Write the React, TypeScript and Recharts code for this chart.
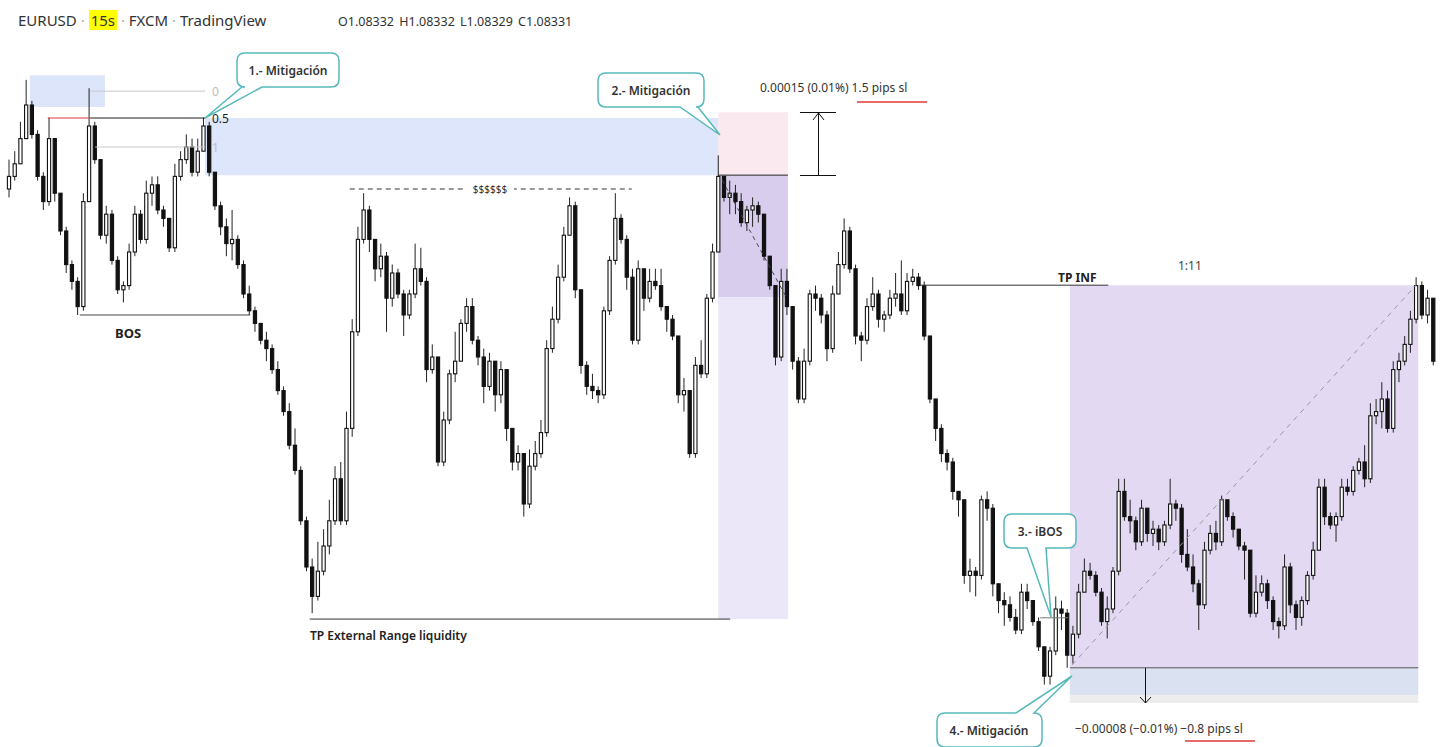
import React from "react";
import { ComposedChart, Bar, XAxis, YAxis, ReferenceArea, ReferenceLine } from "recharts";

// EURUSD 15s (FXCM). Prices are in points above 1.08000 (1 point = 0.00001).
const FIRST_OPEN = 372;

const closes = [
  375, 378, 384, 392, 385, 375, 369, 384, 371, 362, 354, 350, 344, 369, 387, 379, 361, 366, 355, 348,
  349, 357, 366, 360, 371, 373, 367, 365, 358, 375, 379, 382, 376, 381, 387, 376, 368, 363, 359, 360,
  354, 347, 343, 340, 336, 334, 329, 324, 319, 311, 305, 293, 282, 275, 281, 287, 293, 303, 293, 315,
  338, 360, 367, 360, 353, 356, 346, 352, 347, 342, 347, 353, 350, 329, 332, 307, 317, 328, 331, 340,
  344, 336, 332, 325, 331, 323, 329, 315, 307, 309, 297, 306, 309, 314, 334, 341, 351, 361, 368, 348,
  330, 325, 324, 323, 343, 355, 365, 360, 351, 336, 353, 346, 350, 349, 344, 341, 337, 323, 324, 309,
  330, 328, 346, 357, 375, 370, 371, 369, 364, 367, 368, 366, 356, 349, 332, 350, 344, 331, 322, 331,
  347, 346, 342, 334, 347, 354, 362, 353, 337, 336, 344, 347, 341, 342, 346, 347, 343, 350, 351, 349,
  337, 322, 315, 309, 307, 300, 298, 280, 281, 280, 298, 296, 278, 274, 273, 270, 267, 276, 274, 269,
  263, 256, 262, 272, 271, 261, 266, 276, 281, 280, 276, 269, 272, 281, 300, 294, 293, 288, 296, 290,
  291, 288, 292, 297, 296, 285, 282, 278, 273, 286, 290, 288, 298, 294, 291, 287, 286, 271, 276, 278,
  274, 269, 268, 282, 273, 270, 274, 280, 286, 301, 294, 292, 294, 301, 300, 305, 307, 303, 318, 319,
  322, 315, 329, 331, 335, 341, 349, 342, 346, 331,
];

const highs = [
  379, 381, 388, 398, 393, 386, 376, 389, 384, 371, 363, 355, 351, 371, 396, 388, 379, 368, 367, 356,
  350, 359, 368, 367, 374, 375, 375, 368, 365, 378, 381, 385, 384, 384, 389, 388, 376, 369, 365, 367,
  361, 355, 349, 344, 340, 338, 335, 331, 325, 321, 315, 306, 294, 284, 288, 291, 298, 306, 307, 319,
  341, 363, 371, 368, 360, 359, 357, 354, 353, 348, 348, 359, 358, 351, 335, 332, 319, 329, 338, 341,
  346, 346, 337, 334, 333, 331, 331, 327, 315, 311, 309, 310, 312, 317, 336, 344, 354, 363, 370, 369,
  347, 331, 328, 325, 344, 356, 371, 366, 361, 353, 355, 353, 353, 353, 353, 344, 342, 337, 327, 324,
  332, 336, 347, 359, 380, 375, 374, 373, 371, 368, 370, 369, 366, 356, 349, 353, 353, 344, 332, 334,
  348, 349, 347, 343, 349, 357, 365, 363, 354, 338, 346, 351, 348, 343, 348, 352, 355, 352, 353, 352,
  350, 337, 322, 316, 310, 308, 300, 298, 284, 282, 299, 300, 297, 278, 276, 275, 272, 278, 278, 274,
  270, 263, 263, 275, 274, 272, 268, 278, 284, 283, 281, 277, 275, 282, 303, 303, 298, 294, 298, 294,
  293, 292, 293, 303, 298, 297, 291, 285, 279, 288, 292, 293, 299, 298, 295, 291, 288, 286, 280, 280,
  279, 275, 270, 285, 283, 274, 275, 281, 288, 303, 303, 295, 295, 303, 303, 306, 308, 311, 321, 322,
  326, 324, 331, 333, 337, 343, 351, 350, 348, 340,
];

const lows = [
  370, 374, 379, 384, 384, 374, 367, 368, 369, 361, 352, 348, 342, 343, 369, 378, 360, 359, 354, 347,
  345, 348, 356, 359, 359, 368, 366, 363, 357, 357, 374, 378, 375, 375, 381, 375, 367, 361, 356, 355,
  353, 346, 342, 338, 335, 331, 328, 323, 318, 310, 304, 292, 281, 271, 274, 280, 285, 292, 292, 292,
  313, 337, 359, 357, 350, 351, 338, 344, 346, 337, 341, 346, 349, 326, 328, 306, 306, 316, 326, 331,
  338, 335, 330, 321, 324, 319, 321, 312, 305, 305, 294, 296, 305, 308, 313, 333, 340, 350, 361, 346,
  328, 323, 322, 321, 322, 342, 354, 359, 348, 335, 335, 343, 345, 348, 343, 338, 336, 321, 319, 308,
  308, 327, 327, 345, 357, 369, 366, 366, 363, 362, 363, 364, 355, 348, 330, 331, 342, 329, 321, 321,
  330, 343, 340, 331, 333, 347, 353, 352, 335, 331, 335, 343, 339, 338, 341, 344, 342, 342, 349, 348,
  336, 321, 312, 307, 305, 298, 294, 278, 276, 275, 279, 293, 275, 271, 268, 269, 266, 266, 272, 268,
  262, 254, 254, 261, 267, 258, 259, 265, 276, 279, 275, 268, 265, 271, 280, 293, 290, 286, 287, 288,
  287, 286, 287, 291, 293, 283, 281, 276, 267, 272, 285, 286, 287, 293, 289, 286, 279, 270, 270, 275,
  272, 267, 265, 267, 271, 267, 268, 273, 279, 286, 292, 291, 288, 293, 299, 299, 304, 301, 302, 316,
  315, 314, 314, 326, 330, 333, 340, 341, 340, 330,
];

const candles = closes.map((close, i) => ({
  i,
  open: i === 0 ? FIRST_OPEN : closes[i - 1],
  close,
  high: highs[i],
  low: lows[i],
  range: [lows[i], highs[i]],
}));

const Y_DOMAIN: [number, number] = [239.14, 417];
const X_DOMAIN: [number, number] = [-0.5, closes.length - 0.5];

const Candle = (props: any) => {
  const { x, y, width, height, payload } = props;
  if (x == null || !payload) return null;
  const top = Math.min(y, y + height);
  const h = Math.abs(height);
  const span = payload.high - payload.low || 1;
  const k = h / span;
  const cx = x + width / 2;
  const yO = top + (payload.high - payload.open) * k;
  const yC = top + (payload.high - payload.close) * k;
  const up = payload.close >= payload.open;
  const bTop = Math.min(yO, yC);
  const bH = Math.max(1, Math.abs(yO - yC));
  return (
    <g>
      <line x1={cx} x2={cx} y1={top} y2={top + h} stroke="#222" strokeWidth={1} />
      <rect x={cx - 1.6} y={bTop} width={3.2} height={bH} fill={up ? "#fff" : "#111"} stroke="#111" strokeWidth={1.1} />
    </g>
  );
};

// rounded callout box with a tail leaving the top or bottom edge
function bubble(x: number, y: number, w: number, h: number, side: "top" | "bottom", t1: number, t2: number, px: number, py: number) {
  const r = 8;
  if (side === "bottom") {
    return `M${x + r},${y} H${x + w - r} Q${x + w},${y} ${x + w},${y + r} V${y + h - r} Q${x + w},${y + h} ${x + w - r},${y + h} H${t2} L${px},${py} L${t1},${y + h} H${x + r} Q${x},${y + h} ${x},${y + h - r} V${y + r} Q${x},${y} ${x + r},${y} Z`;
  }
  return `M${x + r},${y} H${t1} L${px},${py} L${t2},${y} H${x + w - r} Q${x + w},${y} ${x + w},${y + r} V${y + h - r} Q${x + w},${y + h} ${x + w - r},${y + h} H${x + r} Q${x},${y + h} ${x},${y + h - r} V${y + r} Q${x},${y} ${x + r},${y} Z`;
}

const FONT = '"Noto Sans", "Open Sans", sans-serif';
const TEAL = "#57b9ba";

export default function App() {
  return (
    <div style={{ position: "absolute", left: 0, top: 0, width: 1440, height: 747, background: "#fff", overflow: "hidden" }}>
      <ComposedChart width={1440} height={747} data={candles} margin={{ top: 0, right: 4, bottom: 0, left: 6 }}>
        <XAxis dataKey="i" type="number" domain={X_DOMAIN} hide allowDataOverflow />
        <YAxis type="number" domain={Y_DOMAIN} hide allowDataOverflow />

        {/* order blocks */}
        <ReferenceArea x1={3.7} x2={16.8} y1={391.5} y2={399.1} fill="#dde5fa" fillOpacity={1} stroke="none" />
        <ReferenceArea x1={34.3} x2={124.0} y1={375.3} y2={388.9} fill="#dde6fa" fillOpacity={1} stroke="none" />

        {/* short position tool */}
        <ReferenceArea x1={124.0} x2={136.2} y1={375.3} y2={390.3} fill="#f8dbe6" fillOpacity={0.6} stroke="none" />
        <ReferenceArea x1={124.0} x2={136.2} y1={346.3} y2={375.3} fill="#d9cdee" fillOpacity={1} stroke="none" />
        <ReferenceArea x1={124.0} x2={136.2} y1={269.6} y2={346.3} fill="#ece7f8" fillOpacity={1} stroke="none" />

        {/* long position tool */}
        <ReferenceArea x1={185.5} x2={246.4} y1={258.0} y2={349.1} fill="#e3d9f2" fillOpacity={1} stroke="none" />
        <ReferenceArea x1={185.5} x2={246.4} y1={251.5} y2={258.0} fill="#dae2f2" fillOpacity={1} stroke="none" />
        <ReferenceArea x1={185.5} x2={246.4} y1={249.6} y2={251.5} fill="#ededed" fillOpacity={1} stroke="none" />

        {/* fib levels */}
        <ReferenceLine segment={[{ x: 14.2, y: 395.3 }, { x: 34.3, y: 395.3 }]} stroke="#c9c9c9" />
        <ReferenceLine segment={[{ x: 6.8, y: 388.9 }, { x: 14.2, y: 388.9 }]} stroke="#d83a3a" />
        <ReferenceLine segment={[{ x: 14.2, y: 388.9 }, { x: 34.3, y: 388.9 }]} stroke="#222" />
        <ReferenceLine segment={[{ x: 15.1, y: 382.0 }, { x: 34.3, y: 382.0 }]} stroke="#c9c9c9" />

        {/* structure lines */}
        <ReferenceLine segment={[{ x: 12.4, y: 342.0 }, { x: 42.2, y: 342.0 }]} stroke="#444" />
        <ReferenceLine segment={[{ x: 59.6, y: 372.0 }, { x: 108.9, y: 372.0 }]} stroke="#333" strokeDasharray="5 4" />
        <ReferenceLine segment={[{ x: 52.6, y: 269.6 }, { x: 126.1, y: 269.6 }]} stroke="#333" />
        <ReferenceLine segment={[{ x: 159.3, y: 349.1 }, { x: 192.2, y: 349.1 }]} stroke="#333" />
        <ReferenceLine segment={[{ x: 180.3, y: 269.9 }, { x: 185.2, y: 269.9 }]} stroke="#777" />

        {/* position tool entries and paths */}
        <ReferenceLine segment={[{ x: 124.0, y: 375.3 }, { x: 136.2, y: 375.3 }]} stroke="#222" />
        <ReferenceLine segment={[{ x: 124.7, y: 374.1 }, { x: 135.9, y: 346.3 }]} stroke="#444" strokeDasharray="4 4" />
        <ReferenceLine segment={[{ x: 185.5, y: 258.0 }, { x: 246.4, y: 258.0 }]} stroke="#555" />
        <ReferenceLine segment={[{ x: 185.9, y: 258.7 }, { x: 246.0, y: 349.1 }]} stroke="#9a9a9a" strokeDasharray="5 5" />

        <Bar dataKey="range" barSize={4} shape={Candle} isAnimationActive={false} />
      </ComposedChart>

      <svg width={1440} height={747} style={{ position: "absolute", left: 0, top: 0, pointerEvents: "none" }} fontFamily={FONT}>
        {/* fib labels */}
        <text x={212} y={91} fontSize={12} fill="#bdbdbd" dominantBaseline="central">0</text>
        <text x={212} y={118} fontSize={12} fill="#222" dominantBaseline="central">0.5</text>
        <text x={212} y={147} fontSize={12} fill="#bdbdbd" dominantBaseline="central">1</text>

        <text x={115} y={333} fontSize={13} fontWeight={700} fill="#222" dominantBaseline="central">BOS</text>

        <rect x={466} y={183} width={48} height={12} fill="#fff" />
        <text x={490} y={189} fontSize={10} fill="#333" textAnchor="middle" dominantBaseline="central">$$$$$$</text>

        <text x={310} y={635} fontSize={12} fontWeight={600} fill="#222" dominantBaseline="central">TP External Range liquidity</text>
        <text x={1058} y={277} fontSize={12} fontWeight={700} fill="#222" dominantBaseline="central">TP INF</text>
        <text x={1178} y={265} fontSize={12} fill="#444" dominantBaseline="central">1:11</text>

        {/* stop measure, short */}
        <line x1={800} x2={836} y1={112.5} y2={112.5} stroke="#111" />
        <line x1={800} x2={836} y1={175.5} y2={175.5} stroke="#111" />
        <line x1={818.5} x2={818.5} y1={113} y2={175} stroke="#111" />
        <polyline points="813,120 818.5,113 824,120" fill="none" stroke="#111" />
        <text x={760} y={87} fontSize={12} fill="#333" dominantBaseline="central">0.00015 (0.01%) 1.5 pips sl</text>
        <line x1={857} x2={927} y1={102} y2={102} stroke="#e03a3a" strokeWidth={1.5} />

        {/* stop measure, long */}
        <line x1={1145.5} x2={1145.5} y1={668} y2={703} stroke="#111" />
        <polyline points="1140,697 1145.5,703 1151,697" fill="none" stroke="#111" />
        <text x={1075} y={728} fontSize={12} fill="#333" dominantBaseline="central">−0.00008 (−0.01%) −0.8 pips sl</text>
        <line x1={1185} x2={1255} y1={741} y2={741} stroke="#e03a3a" strokeWidth={1.5} />

        {/* callouts */}
        <path d={bubble(237, 53, 102, 34, "bottom", 242, 262, 205, 118)} fill="#fff" stroke={TEAL} strokeWidth={1.5} />
        <text x={288} y={70} fontSize={12} fontWeight={600} fill="#333" textAnchor="middle" dominantBaseline="central">1.- Mitigación</text>

        <path d={bubble(598, 73, 106, 34, "bottom", 680, 698, 720, 135)} fill="#fff" stroke={TEAL} strokeWidth={1.5} />
        <text x={651} y={90} fontSize={12} fontWeight={600} fill="#333" textAnchor="middle" dominantBaseline="central">2.- Mitigación</text>

        <path d={bubble(1004, 514, 72, 34, "bottom", 1027, 1046, 1051, 617)} fill="#fff" stroke={TEAL} strokeWidth={1.5} />
        <text x={1040} y={531} fontSize={12} fontWeight={600} fill="#333" textAnchor="middle" dominantBaseline="central">3.- iBOS</text>

        <path d={bubble(937, 713, 105, 34, "top", 1016, 1034, 1072, 676)} fill="#fff" stroke={TEAL} strokeWidth={1.5} />
        <text x={989} y={730} fontSize={12} fontWeight={600} fill="#333" textAnchor="middle" dominantBaseline="central">4.- Mitigación</text>
      </svg>

      <div style={{ position: "absolute", left: 18, top: 10, fontFamily: FONT, fontSize: 15, color: "#333", whiteSpace: "nowrap" }}>
        EURUSD <span style={{ color: "#aaa" }}>·</span> <span style={{ background: "#ffff00", padding: "0 2px" }}>15s</span>{" "}
        <span style={{ color: "#aaa" }}>·</span> FXCM <span style={{ color: "#aaa" }}>·</span> TradingView
      </div>
      <div style={{ position: "absolute", left: 338, top: 13, fontFamily: FONT, fontSize: 12.5, color: "#333", whiteSpace: "nowrap", wordSpacing: 2 }}>
        O1.08332 H1.08332 L1.08329 C1.08331
      </div>
    </div>
  );
}
